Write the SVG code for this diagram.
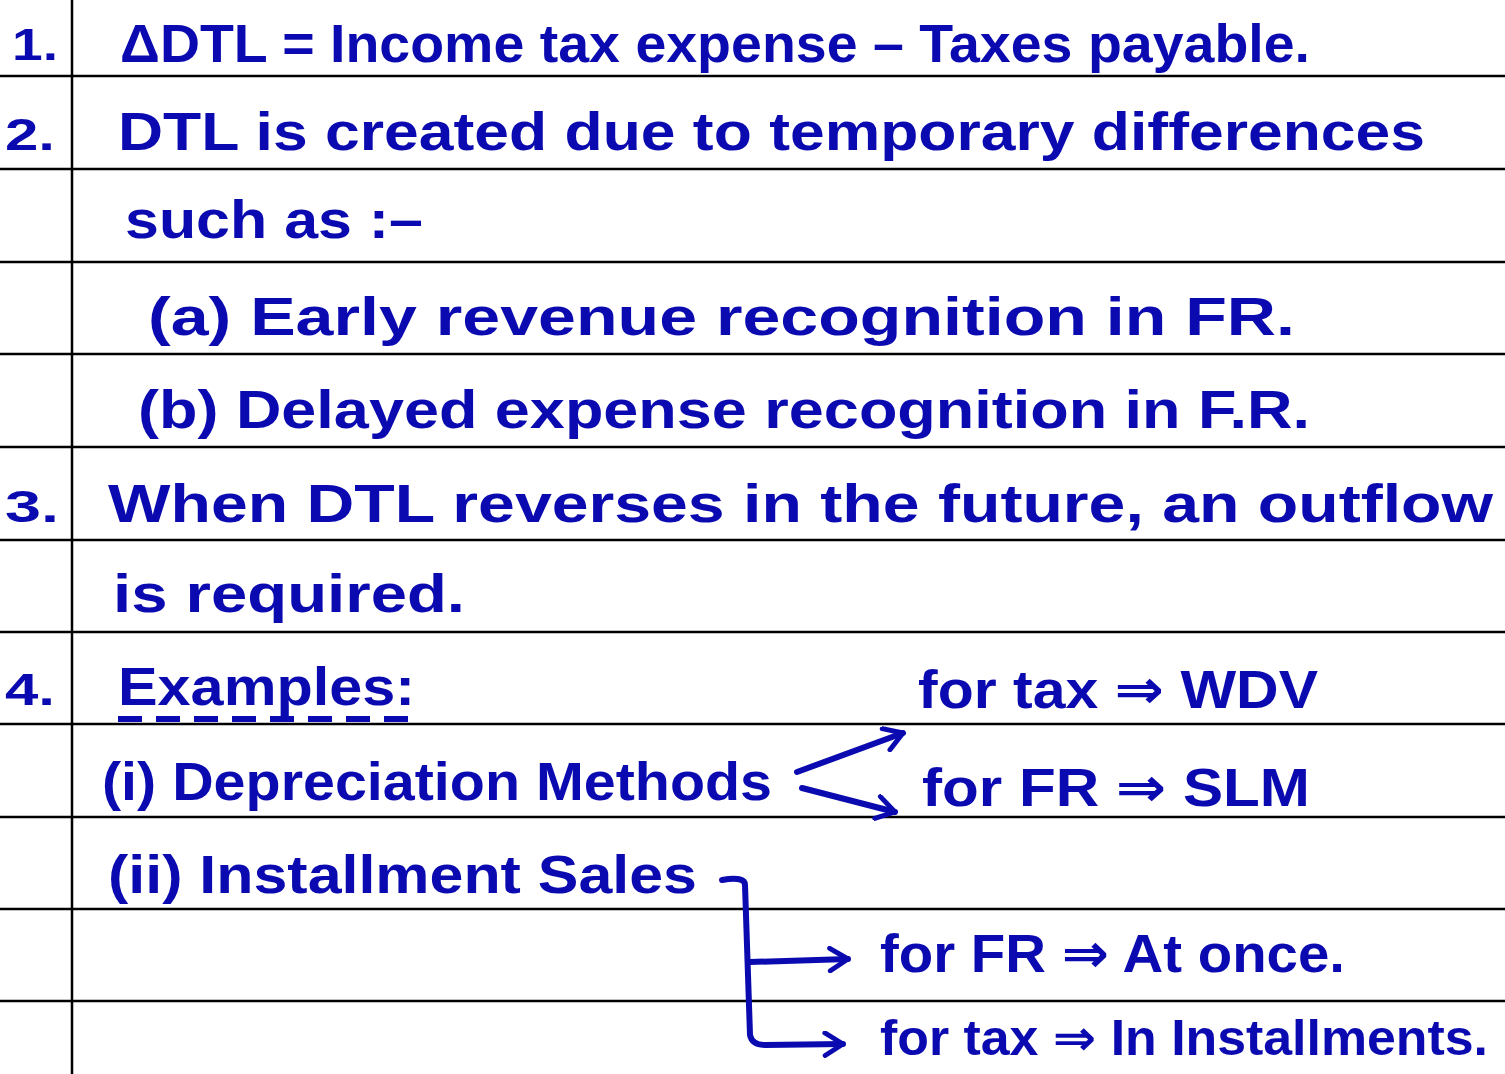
<svg xmlns="http://www.w3.org/2000/svg" width="1505" height="1074" viewBox="0 0 1505 1074">
<defs>
<style>
.rule{stroke:#000;stroke-width:2.5;fill:none}
.t{font-family:"Liberation Sans","DejaVu Sans",sans-serif;font-weight:bold;fill:#0a0ab0;font-size:54px}
.n{font-size:44px}
.s{font-size:50px}
.c{stroke:#0a0ab0;stroke-width:6;fill:none;stroke-linecap:round;stroke-linejoin:round}
</style>
<marker id="ah" viewBox="0 0 12 12" refX="10" refY="6" markerWidth="4.5" markerHeight="4.5" orient="auto" markerUnits="strokeWidth">
<path d="M2,1 L10,6 L2,11" fill="none" stroke="#0a0ab0" stroke-width="2.2" stroke-linecap="round" stroke-linejoin="round"/>
</marker>
</defs>
<rect width="1505" height="1074" fill="#fff"/>
<g id="ruling">
<line class="rule" x1="0" y1="76" x2="1505" y2="76"/>
<line class="rule" x1="0" y1="169" x2="1505" y2="169"/>
<line class="rule" x1="0" y1="262" x2="1505" y2="262"/>
<line class="rule" x1="0" y1="354" x2="1505" y2="354"/>
<line class="rule" x1="0" y1="447" x2="1505" y2="447"/>
<line class="rule" x1="0" y1="540" x2="1505" y2="540"/>
<line class="rule" x1="0" y1="632" x2="1505" y2="632"/>
<line class="rule" x1="0" y1="724" x2="1505" y2="724"/>
<line class="rule" x1="0" y1="817" x2="1505" y2="817"/>
<line class="rule" x1="0" y1="909" x2="1505" y2="909"/>
<line class="rule" x1="0" y1="1001" x2="1505" y2="1001"/>
<line class="rule" x1="72" y1="0" x2="72" y2="1074"/>
</g>
<g id="item1">
<text class="t n" x="12" y="60" textLength="46" lengthAdjust="spacingAndGlyphs">1.</text>
<text class="t" x="120" y="62" textLength="1190" lengthAdjust="spacingAndGlyphs">ΔDTL = Income tax expense – Taxes payable.</text>
</g>
<g id="item2">
<text class="t n" x="5" y="150" textLength="50" lengthAdjust="spacingAndGlyphs">2.</text>
<text class="t" x="118" y="150" textLength="1307" lengthAdjust="spacingAndGlyphs">DTL is created due to temporary differences</text>
<text class="t" x="125" y="238" textLength="298" lengthAdjust="spacingAndGlyphs">such as :–</text>
</g>
<g id="item2a">
<text class="t" x="148" y="335" textLength="1147" lengthAdjust="spacingAndGlyphs">(a) Early revenue recognition in FR.</text>
</g>
<g id="item2b">
<text class="t" x="138" y="428" textLength="1172" lengthAdjust="spacingAndGlyphs">(b) Delayed expense recognition in F.R.</text>
</g>
<g id="item3">
<text class="t n" x="5" y="522" textLength="54" lengthAdjust="spacingAndGlyphs">3.</text>
<text class="t" x="108" y="522" textLength="1385" lengthAdjust="spacingAndGlyphs">When DTL reverses in the future, an outflow</text>
<text class="t" x="113" y="612" textLength="352" lengthAdjust="spacingAndGlyphs">is required.</text>
</g>
<g id="item4">
<text class="t n" x="5" y="705" textLength="50" lengthAdjust="spacingAndGlyphs">4.</text>
<text class="t" x="118" y="705" textLength="297" lengthAdjust="spacingAndGlyphs">Examples:</text>
<line x1="118" y1="719" x2="415" y2="719" stroke="#0a0ab0" stroke-width="6" stroke-dasharray="24,14"/>
</g>
<g id="dep">
<text class="t" x="102" y="800" textLength="670" lengthAdjust="spacingAndGlyphs">(i) Depreciation Methods</text>
</g>
<g id="dep-tax">
<text class="t" x="918" y="708" textLength="400" lengthAdjust="spacingAndGlyphs">for tax ⇒ WDV</text>
</g>
<g id="dep-fr">
<text class="t" x="922" y="806" textLength="388" lengthAdjust="spacingAndGlyphs">for FR ⇒ SLM</text>
</g>
<g id="inst">
<text class="t" x="108" y="893" textLength="589" lengthAdjust="spacingAndGlyphs">(ii) Installment Sales</text>
</g>
<g id="inst-fr">
<text class="t" x="880" y="972" textLength="465" lengthAdjust="spacingAndGlyphs">for FR ⇒ At once.</text>
</g>
<g id="inst-tax">
<text class="t s" x="880" y="1055" textLength="608" lengthAdjust="spacingAndGlyphs">for tax ⇒ In Installments.</text>
</g>
<g id="connectors">
<path class="c" d="M797,772 L903,733" marker-end="url(#ah)"/>
<path class="c" d="M802,788 L895,812" marker-end="url(#ah)"/>
<path class="c" d="M722,880 Q745,876 745,885 L750,1035 Q752,1045 765,1045 L843,1044" marker-end="url(#ah)"/>
<path class="c" d="M750,962 L848,959" marker-end="url(#ah)"/>
</g>
</svg>
